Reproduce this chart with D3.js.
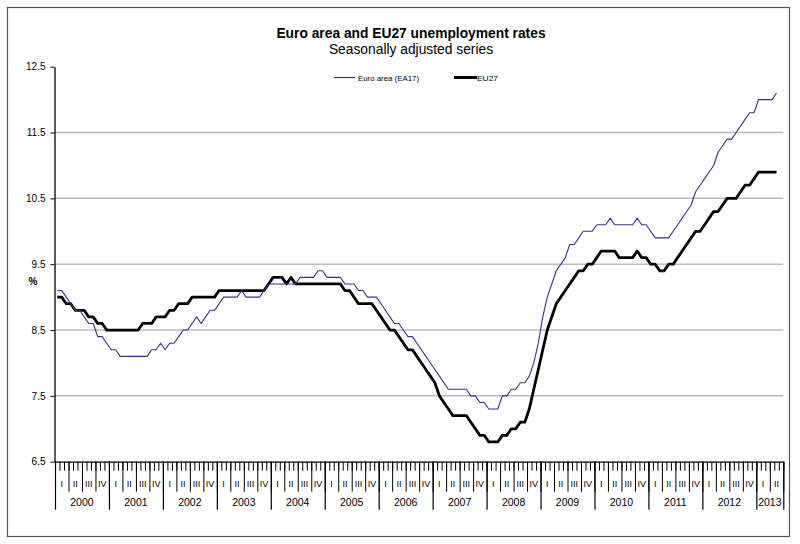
<!DOCTYPE html>
<html>
<head>
<meta charset="utf-8">
<script src="https://cdn.jsdelivr.net/npm/d3@7/dist/d3.min.js"></script>
<style>
  html, body { margin: 0; padding: 0; background: #fff; }
  svg { display: block; font-family: "Liberation Sans", Arial, sans-serif; }
</style>
</head>
<body>
<svg id="chart" width="800" height="544"></svg>
<script>
// ---- data (monthly, Jan 2000 - May 2013) ----
const years = ["2000","2001","2002","2003","2004","2005","2006","2007","2008","2009","2010","2011","2012","2013"];
const quarterLabels = ["I","II","III","IV"];
const yTicks = [6.5, 7.5, 8.5, 9.5, 10.5, 11.5, 12.5];
const gridValues = [7.5, 8.5, 9.5, 10.5, 11.5];
const axisMonths = 162; // Jan 2000 .. Jun 2013

const ea17 = [
  9.1, 9.1, 9.0, 8.9, 8.8, 8.8, 8.7, 8.6, 8.6, 8.4, 8.4, 8.3,        // 2000
  8.2, 8.2, 8.1, 8.1, 8.1, 8.1, 8.1, 8.1, 8.1, 8.2, 8.2, 8.3,        // 2001
  8.2, 8.3, 8.3, 8.4, 8.5, 8.5, 8.6, 8.7, 8.6, 8.7, 8.8, 8.8,        // 2002
  8.9, 9.0, 9.0, 9.0, 9.0, 9.1, 9.0, 9.0, 9.0, 9.0, 9.1, 9.2,        // 2003
  9.2, 9.2, 9.2, 9.2, 9.2, 9.2, 9.3, 9.3, 9.3, 9.3, 9.4, 9.4,        // 2004
  9.3, 9.3, 9.3, 9.3, 9.2, 9.2, 9.2, 9.1, 9.1, 9.0, 9.0, 9.0,        // 2005
  8.9, 8.8, 8.7, 8.6, 8.6, 8.5, 8.4, 8.4, 8.3, 8.2, 8.1, 8.0,        // 2006
  7.9, 7.8, 7.7, 7.6, 7.6, 7.6, 7.6, 7.6, 7.5, 7.5, 7.4, 7.4,        // 2007
  7.3, 7.3, 7.3, 7.5, 7.5, 7.6, 7.6, 7.7, 7.7, 7.8, 8.0, 8.3,        // 2008
  8.7, 9.0, 9.2, 9.4, 9.5, 9.6, 9.8, 9.8, 9.9, 10.0, 10.0, 10.0,     // 2009
  10.1, 10.1, 10.1, 10.2, 10.1, 10.1, 10.1, 10.1, 10.1, 10.2, 10.1, 10.1, // 2010
  10.0, 9.9, 9.9, 9.9, 9.9, 10.0, 10.1, 10.2, 10.3, 10.4, 10.6, 10.7,  // 2011
  10.8, 10.9, 11.0, 11.2, 11.3, 11.4, 11.4, 11.5, 11.6, 11.7, 11.8, 11.8, // 2012
  12.0, 12.0, 12.0, 12.0, 12.1                                        // 2013
];

const eu27 = [
  9.0, 9.0, 8.9, 8.9, 8.8, 8.8, 8.8, 8.7, 8.7, 8.6, 8.6, 8.5,        // 2000
  8.5, 8.5, 8.5, 8.5, 8.5, 8.5, 8.5, 8.6, 8.6, 8.6, 8.7, 8.7,        // 2001
  8.7, 8.8, 8.8, 8.9, 8.9, 8.9, 9.0, 9.0, 9.0, 9.0, 9.0, 9.0,        // 2002
  9.1, 9.1, 9.1, 9.1, 9.1, 9.1, 9.1, 9.1, 9.1, 9.1, 9.1, 9.2,        // 2003
  9.3, 9.3, 9.3, 9.2, 9.3, 9.2, 9.2, 9.2, 9.2, 9.2, 9.2, 9.2,        // 2004
  9.2, 9.2, 9.2, 9.2, 9.1, 9.1, 9.0, 8.9, 8.9, 8.9, 8.9, 8.8,        // 2005
  8.7, 8.6, 8.5, 8.5, 8.4, 8.3, 8.2, 8.2, 8.1, 8.0, 7.9, 7.8,        // 2006
  7.7, 7.5, 7.4, 7.3, 7.2, 7.2, 7.2, 7.2, 7.1, 7.0, 6.9, 6.9,        // 2007
  6.8, 6.8, 6.8, 6.9, 6.9, 7.0, 7.0, 7.1, 7.1, 7.3, 7.6, 7.9,        // 2008
  8.2, 8.5, 8.7, 8.9, 9.0, 9.1, 9.2, 9.3, 9.4, 9.4, 9.5, 9.5,        // 2009
  9.6, 9.7, 9.7, 9.7, 9.7, 9.6, 9.6, 9.6, 9.6, 9.7, 9.6, 9.6,        // 2010
  9.5, 9.5, 9.4, 9.4, 9.5, 9.5, 9.6, 9.7, 9.8, 9.9, 10.0, 10.0,      // 2011
  10.1, 10.2, 10.3, 10.3, 10.4, 10.5, 10.5, 10.5, 10.6, 10.7, 10.7, 10.8, // 2012
  10.9, 10.9, 10.9, 10.9, 10.9                                        // 2013
];

// ---- layout ----
const svg = d3.select("#chart");
const plotLeft = 55, plotRight = 783.3, plotTop = 66.7, plotBottom = 461.7;

const x = d3.scaleLinear().domain([0, axisMonths]).range([plotLeft, plotRight]);
const y = d3.scaleLinear().domain([6.5, 12.5]).range([plotBottom, plotTop]);

// frame
svg.append("rect")
  .attr("x", 7.5).attr("y", 7.5).attr("width", 782).attr("height", 529)
  .attr("fill", "none").attr("stroke", "#555").attr("stroke-width", 1.2);

// title
svg.append("text").attr("x", 411).attr("y", 38).attr("text-anchor", "middle")
  .attr("font-size", 13.8).attr("font-weight", "bold").attr("fill", "#000")
  .text("Euro area and EU27 unemployment rates");
svg.append("text").attr("x", 411).attr("y", 54).attr("text-anchor", "middle")
  .attr("font-size", 13.8).attr("fill", "#000")
  .text("Seasonally adjusted series");

// gridlines
svg.append("g").selectAll("line").data(gridValues).join("line")
  .attr("x1", plotLeft).attr("x2", plotRight)
  .attr("y1", d => y(d)).attr("y2", d => y(d))
  .attr("stroke", "#bcbcbc").attr("stroke-width", 1.5);

// y axis
const yAxis = svg.append("g").attr("transform", `translate(${plotLeft - 0.5},0)`)
  .call(d3.axisLeft(y).tickValues(yTicks).tickSize(4).tickSizeOuter(0).tickFormat(d3.format(".1f")));
yAxis.select(".domain").attr("stroke", "#000").attr("stroke-width", 1.3);
yAxis.selectAll(".tick line").attr("stroke", "#000");
yAxis.selectAll(".tick text").attr("font-size", 10).attr("font-family", "Liberation Sans, Arial, sans-serif")
  .attr("fill", "#000").attr("x", -9);

svg.append("text").attr("x", 33).attr("y", 285).attr("text-anchor", "middle")
  .attr("font-size", 10).attr("font-weight", "bold").text("%");

// x axis: month ticks, quarter ticks, year ticks
const monthAxis = svg.append("g").attr("transform", `translate(0,${plotBottom})`)
  .call(d3.axisBottom(x).tickValues(d3.range(0, axisMonths + 1)).tickSize(9).tickSizeOuter(0).tickFormat(""));
monthAxis.select(".domain").attr("stroke", "#000").attr("stroke-width", 1.3);
monthAxis.selectAll(".tick line").attr("stroke", "#000");

const qAxis = svg.append("g").attr("transform", `translate(0,${plotBottom})`)
  .call(d3.axisBottom(x).tickValues(d3.range(0, axisMonths + 1, 3)).tickSize(30).tickSizeOuter(0).tickFormat(""));
qAxis.select(".domain").remove();
qAxis.selectAll(".tick line").attr("stroke", "#000");

const yrTicks = d3.range(0, axisMonths, 12).concat([axisMonths]);
const yrAxis = svg.append("g").attr("transform", `translate(0,${plotBottom})`)
  .call(d3.axisBottom(x).tickValues(yrTicks).tickSize(48).tickSizeOuter(0).tickFormat(""));
yrAxis.select(".domain").remove();
yrAxis.selectAll(".tick line").attr("stroke", "#000").attr("stroke-width", 1.2);

// quarter labels
const quarters = d3.range(0, axisMonths / 3).map(q => ({ q, label: quarterLabels[q % 4] }));
svg.append("g").selectAll("text").data(quarters).join("text")
  .attr("x", d => x(d.q * 3 + 1.5)).attr("y", 487)
  .attr("text-anchor", "middle").attr("font-size", 9).attr("fill", "#000")
  .text(d => d.label);

// year labels
svg.append("g").selectAll("text").data(years).join("text")
  .attr("x", (d, i) => x(Math.min(i * 12 + 6, (i * 12 + axisMonths) / 2)))
  .attr("y", 506)
  .attr("text-anchor", "middle").attr("font-size", 10.5).attr("fill", "#000")
  .text(d => d);

// lines
const line = d3.line().x((d, i) => x(i + 0.5)).y(d => y(d));
svg.append("path").datum(eu27).attr("d", line)
  .attr("fill", "none").attr("stroke", "#000").attr("stroke-width", 2.8)
  .attr("stroke-linejoin", "round");
svg.append("path").datum(ea17).attr("d", line)
  .attr("fill", "none").attr("stroke", "#33338f").attr("stroke-width", 1.1)
  .attr("stroke-linejoin", "round");

// legend
const legend = svg.append("g");
legend.append("line").attr("x1", 334).attr("x2", 355).attr("y1", 77.5).attr("y2", 77.5)
  .attr("stroke", "#33338f").attr("stroke-width", 1.2);
legend.append("text").attr("x", 358).attr("y", 80.5).attr("font-size", 7.8)
  .attr("textLength", 61).attr("lengthAdjust", "spacingAndGlyphs")
  .text("Euro area (EA17)");
legend.append("line").attr("x1", 454).attr("x2", 477).attr("y1", 77.5).attr("y2", 77.5)
  .attr("stroke", "#000").attr("stroke-width", 3);
legend.append("text").attr("x", 477).attr("y", 80.5).attr("font-size", 7.8)
  .attr("textLength", 21).attr("lengthAdjust", "spacingAndGlyphs")
  .text("EU27");
</script>
</body>
</html>
